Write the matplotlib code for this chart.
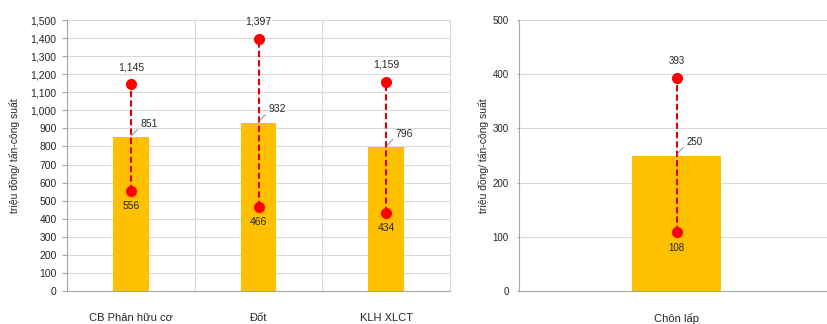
import matplotlib
matplotlib.use("Agg")
import matplotlib.pyplot as plt

plt.rcParams['font.family'] = ['Liberation Sans', 'DejaVu Sans']

# Data
cats_left = ["CB Phân hữu cơ", "Đốt", "KLH XLCT"]
mean_left = [851, 932, 796]
max_left = [1145, 1397, 1159]
min_left = [556, 466, 434]

cats_right = ["Chôn lấp"]
mean_right = [250]
max_right = [393]
min_right = [108]

ylabel = "triệu đồng/ tấn-công suất"

BAR = "#FFC000"
RED = "#FF0000"
GRID = "#D9D9D9"
TXT = "#262626"

fig = plt.figure(figsize=(8.27, 3.24), dpi=100)
axL = fig.add_axes([67/827, 1-291/324, (450-67)/827, 271/324])
axR = fig.add_axes([519/827, 1-291/324, (834-519)/827, 271/324])


def fmt(v):
    return f"{v:,.0f}"


def draw(ax, cats, means, maxs, mins, ymax, step, sep, tfs, tlen, lfs):
    x = list(range(len(cats)))
    ax.bar(x, means, width=0.28, color=BAR, zorder=2)
    for xi, m, hi, lo in zip(x, means, maxs, mins):
        ax.plot([xi, xi], [lo, hi], color="#E00000", lw=1.5, ls=(0, (3, 1.5)), zorder=3)
        ax.plot([xi, xi], [lo, hi], 'o', color=RED, ms=7, zorder=4, mec=RED)
        ax.annotate(fmt(hi), (xi, hi), xytext=(0, 12), textcoords='offset points',
                    ha='center', va='center', fontsize=lfs, color=TXT)
        ax.annotate(fmt(lo), (xi, lo), xytext=(0, -11), textcoords='offset points',
                    ha='center', va='center', fontsize=lfs, color=TXT)
        ax.annotate(fmt(m), (xi, m), xytext=(7, 9.5), textcoords='offset points',
                    ha='left', va='center', fontsize=lfs, color=TXT,
                    arrowprops=dict(arrowstyle='-', color='#808080', lw=0.6,
                                    shrinkA=0, shrinkB=1,
                                    connectionstyle='arc3,rad=0.2'))
    ax.set_xlim(-0.5, len(cats) - 0.5)
    ax.set_ylim(0, ymax)
    ax.set_yticks(range(0, ymax + 1, step))
    ax.set_yticklabels([fmt(v) for v in range(0, ymax + 1, step)])
    ax.set_xticks(x)
    ax.set_xticklabels(cats, fontsize=8, color=TXT)
    ax.tick_params(axis='x', length=0, pad=16)
    ax.tick_params(axis='y', length=tlen, color='#A6A6A6', labelsize=tfs,
                   labelcolor=TXT, pad=7.5 - tlen)
    ax.yaxis.grid(True, color=GRID, lw=0.8, zorder=0)
    ax.set_axisbelow(True)
    if sep:
        ax.set_xticks([i + 0.5 for i in range(len(cats) - 1)], minor=True)
        ax.tick_params(axis='x', which='minor', length=0)
        ax.xaxis.grid(True, which='minor', color=GRID, lw=0.8)
    ax.spines['top'].set_visible(False)
    ax.spines['right'].set_visible(sep)
    ax.spines['right'].set_color(GRID)
    ax.spines['left'].set_color('#A6A6A6')
    ax.spines['bottom'].set_color('#A6A6A6')
    ax.set_ylabel(ylabel, fontsize=7.5, color=TXT)


draw(axL, cats_left, mean_left, max_left, min_left, 1500, 100, True, 7.5, 3.6, 7.5)
axL.yaxis.set_label_coords(-0.123, 0.5)
draw(axR, cats_right, mean_right, max_right, min_right, 500, 100, False, 7, 1.8, 7)
axR.yaxis.set_label_coords(-0.095, 0.5)

fig.savefig("out.png", dpi=100)
